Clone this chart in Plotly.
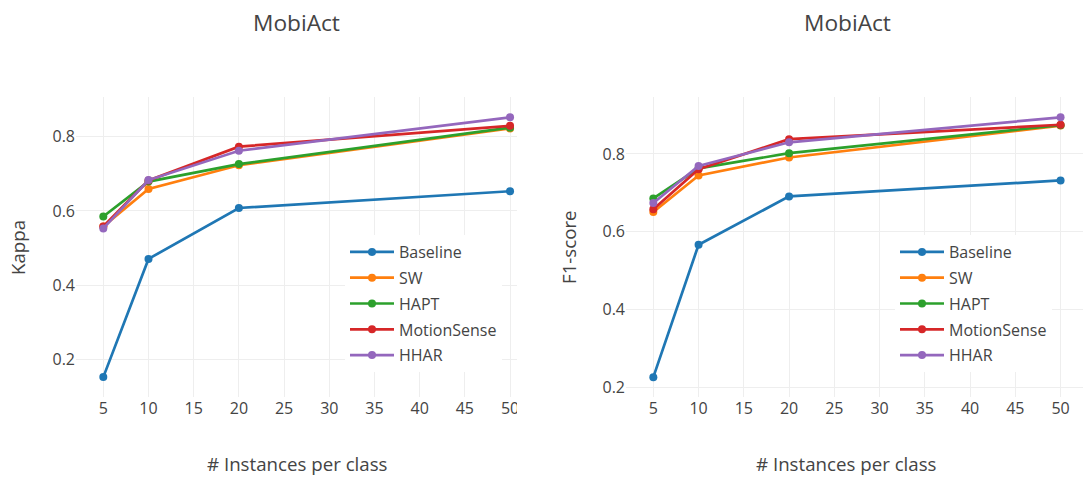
import plotly.graph_objects as go

W, H = 1083, 477

# Number of labelled instances per class
instances = [5, 10, 20, 50]

methods = ["Baseline", "SW", "HAPT", "MotionSense", "HHAR"]
colors = ["#1f77b4", "#ff7f0e", "#2ca02c", "#d62728", "#9467bd"]

# Cohen's kappa on MobiAct
kappa_baseline = [0.153, 0.471, 0.608, 0.653]
kappa_sw = [0.558, 0.659, 0.723, 0.822]
kappa_hapt = [0.585, 0.679, 0.726, 0.824]
kappa_motionsense = [0.558, 0.682, 0.773, 0.829]
kappa_hhar = [0.553, 0.683, 0.762, 0.852]

# Macro F1-score on MobiAct
f1_baseline = [0.227, 0.567, 0.691, 0.732]
f1_sw = [0.651, 0.745, 0.791, 0.873]
f1_hapt = [0.686, 0.763, 0.802, 0.874]
f1_motionsense = [0.658, 0.761, 0.838, 0.875]
f1_hhar = [0.674, 0.769, 0.830, 0.894]

kappa = [kappa_baseline, kappa_sw, kappa_hapt, kappa_motionsense, kappa_hhar]
f1 = [f1_baseline, f1_sw, f1_hapt, f1_motionsense, f1_hhar]

FONT = "Open Sans, verdana, arial, sans-serif"
TXT = "#444"


def px(x):
    return x / W


def py(y):
    return 1 - y / H


fig = go.Figure()

for name, color, ys in zip(methods, colors, kappa):
    fig.add_trace(go.Scatter(
        x=instances, y=ys, name=name, mode="lines+markers",
        line=dict(color=color, width=2.7), marker=dict(color=color, size=8),
        xaxis="x", yaxis="y", legend="legend", legendgroup="k_" + name,
    ))

for name, color, ys in zip(methods, colors, f1):
    fig.add_trace(go.Scatter(
        x=instances, y=ys, name=name, mode="lines+markers",
        line=dict(color=color, width=2.7), marker=dict(color=color, size=8),
        xaxis="x2", yaxis="y2", legend="legend2", legendgroup="f_" + name,
    ))

axis_common = dict(
    showgrid=True, gridcolor="#eee", gridwidth=1, zeroline=False,
    showline=False, ticks="", tickfont=dict(size=16, color=TXT, family=FONT),
)

legend_common = dict(
    xanchor="left", yanchor="top", bgcolor="white",
    font=dict(size=16, color=TXT), itemwidth=44,
    traceorder="grouped", tracegroupgap=2,
)

fig.update_layout(
    template="none",
    width=W, height=H,
    margin=dict(l=0, r=0, t=0, b=0),
    paper_bgcolor="white", plot_bgcolor="white",
    font=dict(family=FONT, color=TXT),
    xaxis=dict(domain=[px(76), px(517)], range=[1.98, 50.77],
               tickvals=list(range(5, 55, 5)), anchor="y", **axis_common),
    yaxis=dict(domain=[py(397), py(97)], range=[0.0995, 0.9065],
               tickvals=[0.2, 0.4, 0.6, 0.8], anchor="x", **axis_common),
    xaxis2=dict(domain=[px(626), 1.0], range=[1.98, 52.48],
                tickvals=list(range(5, 55, 5)), anchor="y2", **axis_common),
    yaxis2=dict(domain=[py(397), py(97)], range=[0.176, 0.9463],
                tickvals=[0.2, 0.4, 0.6, 0.8], anchor="x2", **axis_common),
    legend=dict(x=px(345), y=py(235), **legend_common),
    legend2=dict(x=px(895), y=py(235), **legend_common),
)

annotations = [
    dict(text="MobiAct", x=px(296), y=py(22), font=dict(size=22.7)),
    dict(text="MobiAct", x=px(847), y=py(22), font=dict(size=22.7)),
    dict(text="# Instances per class", x=px(297), y=py(463), font=dict(size=18.7)),
    dict(text="# Instances per class", x=px(846), y=py(463), font=dict(size=18.7)),
    dict(text="Kappa", x=px(18), y=py(248), textangle=-90, font=dict(size=18.7)),
    dict(text="F1-score", x=px(568), y=py(247), textangle=-90, font=dict(size=18.7)),
]
for a in annotations:
    a.update(xref="paper", yref="paper", showarrow=False,
             xanchor="center", yanchor="middle")
    a["font"].update(color=TXT, family=FONT)
fig.update_layout(annotations=annotations)

# The left panel is cut at its right edge, which also trims its last tick label.
fig.add_shape(type="rect", xref="paper", yref="paper", layer="above",
              x0=px(517), x1=px(548), y0=py(430), y1=py(399),
              fillcolor="white", line=dict(width=0))

fig.write_html("out.html")
